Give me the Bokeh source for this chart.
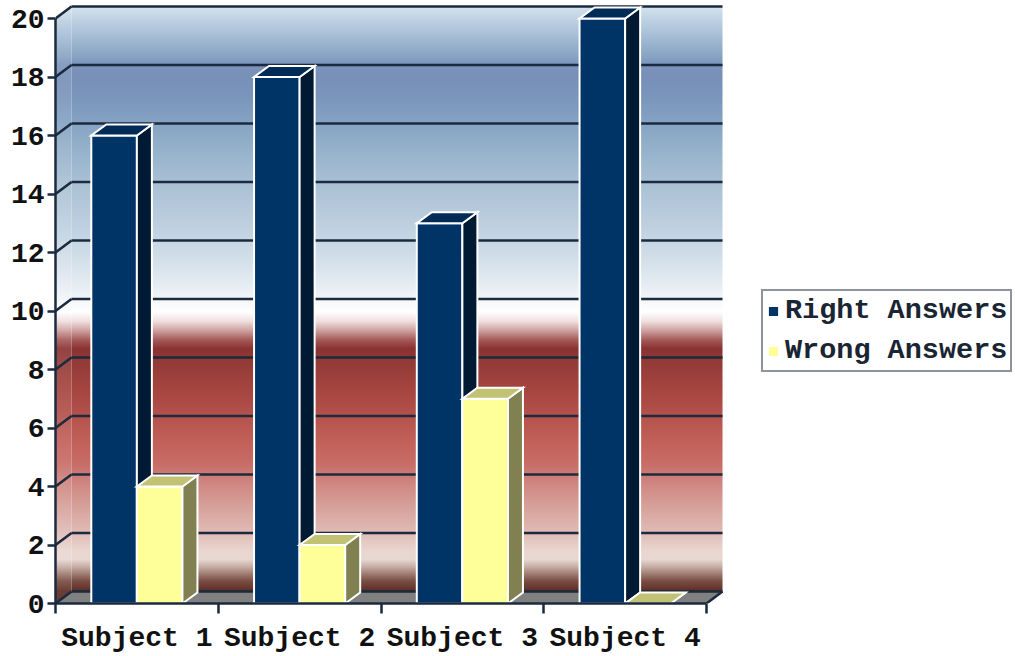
import numpy as np
from bokeh.plotting import figure
from bokeh.models import Range1d, FixedTicker, Legend, LegendItem
from bokeh.embed import file_html
from bokeh.resources import INLINE

# ---- data -------------------------------------------------------------
categories = ["Subject 1", "Subject 2", "Subject 3", "Subject 4"]
right_answers = [16, 18, 13, 20]
wrong_answers = [4, 2, 7, 0]
y_ticks = [0, 2, 4, 6, 8, 10, 12, 14, 16, 18, 20]

# ---- layout -----------------------------------------------------------
W, H = 1015, 656
BORDER_LEFT, BORDER_BOTTOM = 55, 53
PX_PER_CAT = 162.75          # horizontal pixels per category slot
PX_PER_UNIT = 29.25          # vertical pixels per answer
FRAME_W = W - BORDER_LEFT
FRAME_H = H - BORDER_BOTTOM
N = len(categories)
Y_TOP = y_ticks[-1]

# depth of the back wall and of the bars, in data units
WALL_DX, WALL_DY = 16 / PX_PER_CAT, 12 / PX_PER_UNIT
BAR_DX, BAR_DY = 15 / PX_PER_CAT, 11 / PX_PER_UNIT
BAR_W = 0.28

# ---- colours ----------------------------------------------------------
INK = "#1b2a3e"
RIGHT_FRONT, RIGHT_SIDE, RIGHT_TOP = "#003366", "#001a33", "#002b57"
WRONG_FRONT, WRONG_SIDE, WRONG_TOP = "#ffff99", "#808050", "#c2c274"
FLOOR = "#808080"

# wall shading: (fraction of wall height from the bottom, colour)
WALL_GRADIENT = [
    (0.000, "#5c2c22"), (0.018, "#7a4e44"), (0.030, "#a07c72"),
    (0.043, "#c8b0a8"), (0.055, "#e8d8d2"), (0.070, "#e9d6d0"),
    (0.100, "#e0bcb6"), (0.140, "#d8a49e"), (0.180, "#d08a84"),
    (0.220, "#c86c66"), (0.250, "#c4625c"), (0.300, "#b4524c"),
    (0.350, "#a4443f"), (0.395, "#923a36"), (0.415, "#8a3232"),
    (0.430, "#a45a58"), (0.445, "#cc9c9c"), (0.462, "#f0e0e0"),
    (0.478, "#ffffff"), (0.495, "#f6f8fa"), (0.520, "#e8eef4"),
    (0.565, "#d4e0ea"), (0.625, "#bed0e0"), (0.700, "#a8c0d4"),
    (0.760, "#94b0ca"), (0.810, "#82a0c2"), (0.850, "#7a94ba"),
    (0.880, "#7890b8"), (0.900, "#7c94bc"), (0.920, "#8ca8c6"),
    (0.950, "#a6bed6"), (0.975, "#bcd0e2"), (1.000, "#d4e4ee"),
]


def _rgb(h):
    return [int(h[i:i + 2], 16) for i in (1, 3, 5)]


_pos = np.array([s[0] for s in WALL_GRADIENT])
_cols = np.array([_rgb(s[1]) for s in WALL_GRADIENT], dtype=float)


def wall_rgb(f):
    f = np.clip(f, 0, 1)
    return np.stack([np.interp(f, _pos, _cols[:, k]) for k in range(3)], axis=-1)


# back wall: one column, one row per screen pixel
rows = int(round(Y_TOP * PX_PER_UNIT))
frac = (np.arange(rows) + 0.5) / rows
back = np.zeros((rows, 1, 4), dtype=np.uint8)
back[:, 0, :3] = wall_rgb(frac).round().astype(np.uint8)
back[:, 0, 3] = 255
back_img = back.view(np.uint32).reshape(rows, 1)

# left side wall: a parallelogram, masked inside its bounding box
side_cols = 16
side_rows = int(round((Y_TOP + WALL_DY) * PX_PER_UNIT))
vx = (np.arange(side_cols) + 0.5) / side_cols
vy = (np.arange(side_rows) + 0.5) / side_rows * (Y_TOP + WALL_DY)
VX, VY = np.meshgrid(vx, vy)
inside = (VY >= VX * WALL_DY) & (VY <= Y_TOP + VX * WALL_DY)
side = np.zeros((side_rows, side_cols, 4), dtype=np.uint8)
shade = wall_rgb((VY - WALL_DY) / Y_TOP)
shade = shade + (255 - shade) * 0.08
side[..., :3] = shade.round().astype(np.uint8)
side[..., 3] = np.where(inside, 255, 0)
side_img = side.view(np.uint32).reshape(side_rows, side_cols)

# ---- figure -----------------------------------------------------------
p = figure(
    width=W, height=H, output_backend="svg", toolbar_location=None,
    x_range=Range1d(0, FRAME_W / PX_PER_CAT),
    y_range=Range1d(0, FRAME_H / PX_PER_UNIT),
    min_border_left=BORDER_LEFT, min_border_right=0,
    min_border_top=0, min_border_bottom=BORDER_BOTTOM,
)
p.outline_line_color = None
p.background_fill_color = "white"
p.border_fill_color = "white"
p.xgrid.visible = False
p.ygrid.visible = False

# walls and floor
p.image_rgba(image=[back_img], x=WALL_DX, y=WALL_DY, dw=N, dh=Y_TOP)
p.image_rgba(image=[side_img], x=0, y=0, dw=WALL_DX, dh=Y_TOP + WALL_DY)
p.patch(x=[0, N, N + WALL_DX, WALL_DX], y=[0, 0, WALL_DY, WALL_DY],
        fill_color=FLOOR, line_color=None)

# grid lines on the back wall plus the diagonals on the side wall
p.segment(x0=[WALL_DX] * len(y_ticks), y0=[t + WALL_DY for t in y_ticks],
          x1=[N + WALL_DX] * len(y_ticks), y1=[t + WALL_DY for t in y_ticks],
          line_color=INK, line_width=2.5)
p.segment(x0=[0] * len(y_ticks), y0=y_ticks,
          x1=[WALL_DX] * len(y_ticks), y1=[t + WALL_DY for t in y_ticks],
          line_color=INK, line_width=2.5)
p.segment(x0=[N], y0=[0], x1=[N + WALL_DX], y1=[WALL_DY],
          line_color=INK, line_width=2.5)


def bar_faces(lefts, heights):
    front, side_f, top = ([], []), ([], []), ([], [])
    for x0, h in zip(lefts, heights):
        x1 = x0 + BAR_W
        front[0].append([x0, x1, x1, x0])
        front[1].append([0, 0, h, h])
        side_f[0].append([x1, x1 + BAR_DX, x1 + BAR_DX, x1])
        side_f[1].append([0, BAR_DY, h + BAR_DY, h])
        top[0].append([x0, x1, x1 + BAR_DX, x0 + BAR_DX])
        top[1].append([h, h, h + BAR_DY, h + BAR_DY])
    return front, side_f, top


centers = [i + 0.5 for i in range(N)]
bar_style = dict(line_color="white", line_width=2, line_join="miter")

rf, rs, rt = bar_faces([c - BAR_W for c in centers], right_answers)
right_front = p.patches(xs=rf[0], ys=rf[1], fill_color=RIGHT_FRONT, **bar_style)
p.patches(xs=rs[0], ys=rs[1], fill_color=RIGHT_SIDE, **bar_style)
p.patches(xs=rt[0], ys=rt[1], fill_color=RIGHT_TOP, **bar_style)

wf, ws, wt = bar_faces(centers, wrong_answers)
wrong_front = p.patches(xs=wf[0], ys=wf[1], fill_color=WRONG_FRONT, **bar_style)
p.patches(xs=ws[0], ys=ws[1], fill_color=WRONG_SIDE, **bar_style)
p.patches(xs=wt[0], ys=wt[1], fill_color=WRONG_TOP, **bar_style)

# ---- axes -------------------------------------------------------------
FONT = "Liberation Mono"

yax = p.yaxis[0]
yax.ticker = FixedTicker(ticks=y_ticks, minor_ticks=[])
yax.bounds = (0, Y_TOP)
yax.axis_line_color = INK
yax.axis_line_width = 2.5
yax.major_tick_line_color = INK
yax.major_tick_line_width = 2.5
yax.major_tick_in = 0
yax.major_tick_out = 8
yax.minor_tick_line_color = None
yax.major_label_standoff = 3
yax.major_label_text_font = FONT
yax.major_label_text_font_style = "bold"
yax.major_label_text_font_size = "28px"
yax.major_label_text_color = "#111111"

xax = p.xaxis[0]
xax.ticker = FixedTicker(ticks=centers, minor_ticks=list(range(N + 1)))
xax.bounds = (0, N)
xax.major_label_overrides = {c: name for c, name in zip(centers, categories)}
xax.axis_line_color = INK
xax.axis_line_width = 2.5
xax.major_tick_line_color = None
xax.major_tick_in = 0
xax.major_tick_out = 0
xax.minor_tick_line_color = INK
xax.minor_tick_line_width = 2.5
xax.minor_tick_in = 0
xax.minor_tick_out = 10
xax.major_label_standoff = 9
xax.major_label_text_font = FONT
xax.major_label_text_font_style = "bold"
xax.major_label_text_font_size = "28px"
xax.major_label_text_color = "#111111"

# ---- legend -----------------------------------------------------------
legend = Legend(
    items=[LegendItem(label="Right Answers", renderers=[right_front]),
           LegendItem(label="Wrong Answers", renderers=[wrong_front])],
    location=(706, 231),
    border_line_color=INK, border_line_width=2.5,
    background_fill_color="white", background_fill_alpha=1,
    label_text_font=FONT, label_text_font_style="bold",
    label_text_font_size="28.5px", label_text_color="#1a2533",
    glyph_width=14, glyph_height=14, label_standoff=5,
    padding=3, spacing=7, margin=0,
)
p.add_layout(legend)

open("out.html", "w").write(file_html(p, INLINE))
